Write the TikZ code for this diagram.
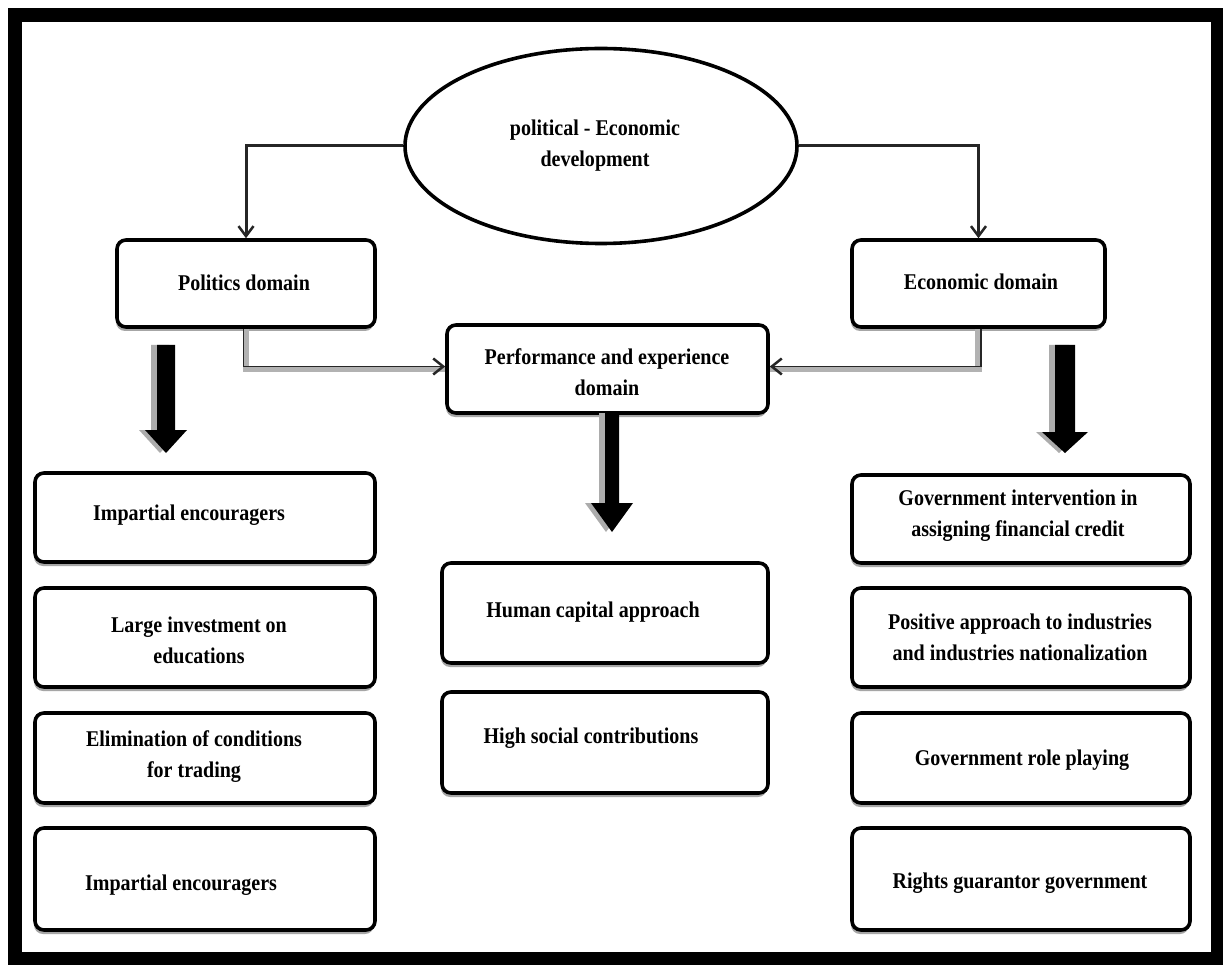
\documentclass[tikz,border=0pt]{standalone}
\usepackage{fontspec}
\setmainfont{Liberation Serif}[FakeStretch=0.89]
\usetikzlibrary{shapes.geometric,arrows.meta,shadows}
\newcommand{\blockdown}[6]{%
  \fill[gray!65] ({#1-#5-6},#2) -- ({#1+#5-6},#2) -- ({#1+#5-6},#3) -- ({#1+#6-6},#3) -- ({#1-6},#4) -- ({#1-#6-6},#3) -- ({#1-#5-6},#3) -- cycle;
  \fill[black] ({#1-#5},#2) -- ({#1+#5},#2) -- ({#1+#5},#3) -- ({#1+#6},#3) -- ({#1},#4) -- ({#1-#6},#3) -- ({#1-#5},#3) -- cycle;}
\begin{document}
\begin{tikzpicture}[x=1pt,y=-1pt,
  box/.style={draw=black, line width=3.6pt, rounded corners=9pt, fill=white, inner sep=0pt,
    drop shadow={shadow xshift=-1pt, shadow yshift=-4pt, fill=gray!70, opacity=1}},
  txt/.style={font=\fontsize{22.5}{31}\selectfont\bfseries, align=center, inner sep=0pt},
  topconn/.style={draw=black!85, line width=3pt, -{Straight Barb[length=10pt,width=15pt,line width=2.5pt]}},
  lowconn/.style={draw=gray!60, line width=6.5pt},
  lowedge/.style={draw=black!85, line width=1.6pt, -{Straight Barb[length=10pt,width=16pt,line width=2.5pt]}}
]
\useasboundingbox (0,0) rectangle (1223,965);
\fill[white] (0,0) rectangle (1223,965);
\draw[line width=14pt] (14.5,15.5) rectangle (1217.5,958.5);

% ellipse
\node[ellipse, draw=black, line width=3.6pt, fill=white, minimum width=392pt, minimum height=195pt, inner sep=0pt] (ell) at (601,146) {};
\node[txt] (ellt) at (595,146) {political - Economic\\development};

% domain boxes
\node[box, minimum width=258pt, minimum height=87pt] (pol) at (246,283.5) {};
\node[txt] (polt) at (244,283) {Politics domain};
\node[box, minimum width=253pt, minimum height=87pt] (eco) at (978.5,283.5) {};
\node[txt] (ecot) at (981,282) {Economic domain};
\node[box, minimum width=321pt, minimum height=88pt] (perf) at (607.5,369) {};
\node[txt] (perft) at (607,372) {Performance and experience\\domain};

% connectors from ellipse
\draw[topconn] (ell.west) -| (pol.north);
\draw[topconn] (ell.east) -| (eco.north);

% connectors to performance box
\draw[lowconn] (pol.south) |- (perf.west);
\draw[lowconn] (eco.south) |- (perf.east);
\draw[lowedge] ([xshift=-2.5pt]pol.south) |- ([yshift=2.5pt]perf.west);
\draw[lowedge] ([xshift=2.5pt]eco.south) |- ([yshift=2.5pt]perf.east);

% block arrows
\blockdown{166}{345}{430}{453}{9}{21}
\blockdown{612}{413}{503}{532}{7}{21}
\blockdown{1065}{345}{432}{453}{10}{23}

% left column
\node[box, minimum width=340pt, minimum height=89pt] (l1) at (205,517.5) {};
\node[txt] (l1t) at (189,515) {Impartial encouragers};
\node[box, minimum width=340pt, minimum height=99pt] (l2) at (205,637.5) {};
\node[txt] (l2t) at (199,640) {Large investment on\\educations};
\node[box, minimum width=340pt, minimum height=90pt] (l3) at (205,758) {};
\node[txt] (l3t) at (194,757) {Elimination of conditions\\for trading};
\node[box, minimum width=340pt, minimum height=102pt] (l4) at (205,879) {};
\node[txt] (l4t) at (181,885) {Impartial encouragers};

% centre column
\node[box, minimum width=326pt, minimum height=100pt] (hc) at (605,613) {};
\node[txt] (hct) at (593,612) {Human capital approach};
\node[box, minimum width=326pt, minimum height=101pt] (hs) at (605,742.5) {};
\node[txt] (hst) at (591,738) {High social contributions};

% right column
\node[box, minimum width=338pt, minimum height=88pt] (r1) at (1021,519) {};
\node[txt] (r1t) at (1018,516) {Government intervention in\\assigning financial credit};
\node[box, minimum width=338pt, minimum height=99pt] (r2) at (1021,637.5) {};
\node[txt] (r2t) at (1020,637) {Positive approach to industries\\and industries nationalization};
\node[box, minimum width=338pt, minimum height=90pt] (r3) at (1021,758) {};
\node[txt] (r3t) at (1022,760) {Government role playing};
\node[box, minimum width=338pt, minimum height=102pt] (r4) at (1021,879) {};
\node[txt] (r4t) at (1020,883) {Rights guarantor government};
\end{tikzpicture}
\end{document}
